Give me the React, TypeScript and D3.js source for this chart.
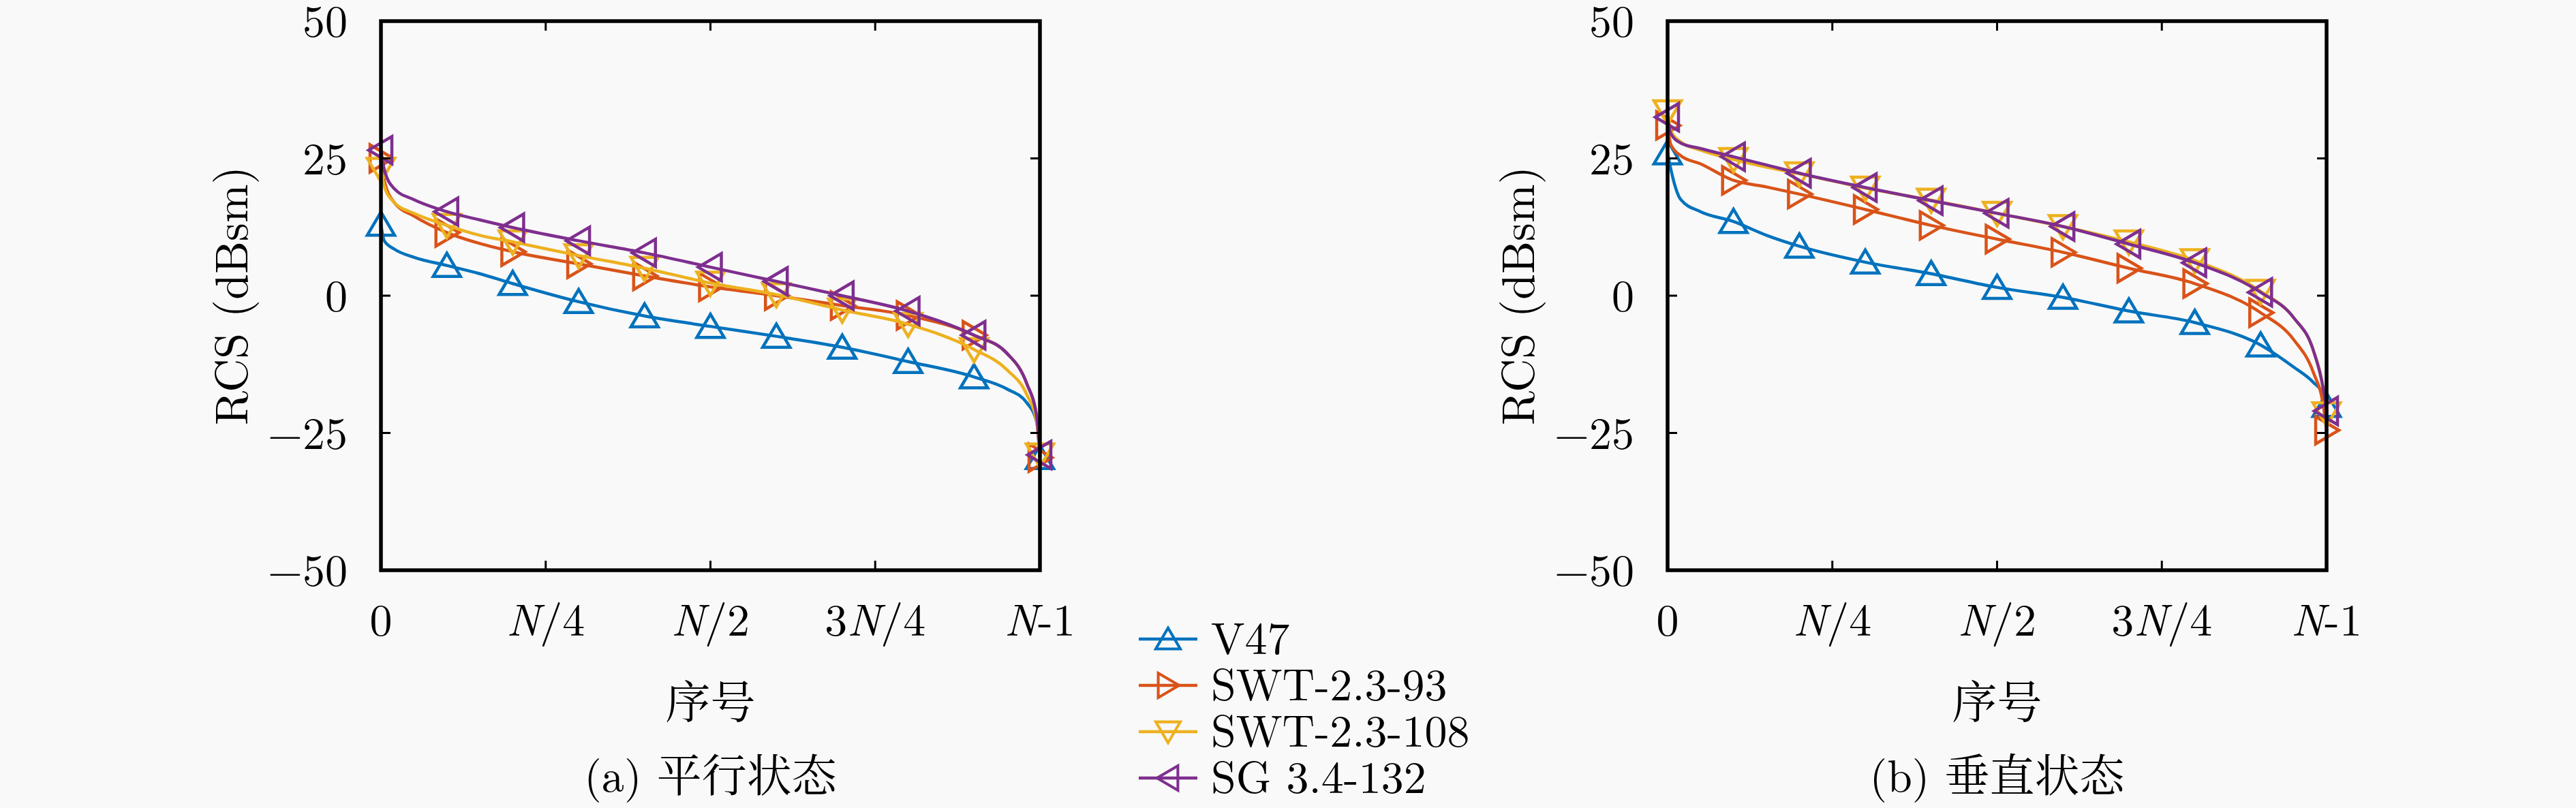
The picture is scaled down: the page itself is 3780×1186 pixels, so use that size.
import React from "react";
import * as d3 from "d3";

// sorted RCS curves, x as fraction of index range 0 .. N-1
const xFrac = [0, 0.005, 0.02, 0.05, 0.1, 0.15, 0.2, 0.3, 0.4, 0.5, 0.6, 0.7, 0.8, 0.9, 0.95, 0.98, 0.995, 1.0];
const markerFrac = [0, 0.1, 0.2, 0.3, 0.4, 0.5, 0.6, 0.7, 0.8, 0.9, 1.0];

// (a) parallel
const v47A = [13, 10, 8.5, 7, 5.5, 4, 2.2, -1.1, -3.7, -5.6, -7.4, -9.4, -12, -14.8, -17, -19.5, -23, -29.5];
const swt93A = [25, 21, 17, 14.5, 11.5, 9.5, 8, 5.8, 3.6, 1.6, 0, -1.8, -3.6, -7.2, -10.5, -16, -22, -29.5];
const swt108A = [23, 20, 17, 15, 12.8, 11, 9.8, 7.3, 5, 2.3, 0.2, -2.6, -5.2, -9.8, -13.5, -18, -23, -29];
const sgA = [26.5, 23, 19.5, 17.5, 15.3, 13.8, 12.4, 10, 7.8, 5.2, 2.6, 0, -2.8, -7.2, -10.5, -16, -22, -29];

// (b) perpendicular
const v47B = [26, 23, 17.5, 15.3, 13.5, 11, 9, 6.1, 4, 1.5, -0.3, -2.8, -4.9, -9, -13, -15.8, -18, -20];
const swt93B = [31, 27.5, 25.5, 24, 21, 19.8, 18.5, 15.7, 12.8, 10.3, 7.9, 5, 2.2, -3.1, -8, -14, -20, -24.5];
const swt108B = [33.5, 30, 28, 26.5, 24.8, 23.4, 22.2, 19.6, 17.4, 15, 12.6, 9.8, 6.4, 0.8, -4, -10, -17, -21.5];
const sgB = [32.5, 29.5, 27.8, 26.8, 25.3, 23.8, 22.3, 19.7, 17.3, 15, 12.6, 9.4, 6, 0.6, -4, -10, -17, -21];

const seriesNames = ["V47", "SWT-2.3-93", "SWT-2.3-108", "SG 3.4-132"];
const seriesColors = ["#0072BD", "#D95319", "#EDB120", "#7E2F8E"];
const seriesMarkers = ["up", "right", "down", "left"];

const yTicks = [50, 25, 0, -25, -50];
const xTicks = [0, 0.25, 0.5, 0.75, 1];
const xTickLabels = [["", "0"], ["N", "/4"], ["N", "/2"], ["3", "N", "/4"], ["N", "-1"]];

const serif = { fontFamily: '"Latin Modern Roman", "Liberation Serif", serif' };
const cjk = { fontFamily: '"Noto Serif CJK SC", "Noto Sans CJK SC", serif' };

const triangle = (kind: string) => {
  switch (kind) {
    case "up":
      return "M0,-18L20,16L-20,16Z";
    case "down":
      return "M0,18L20,-16L-20,-16Z";
    case "right":
      return "M18,0L-16,-20L-16,20Z";
    default:
      return "M-18,0L16,-20L16,20Z";
  }
};

const fmt = (v: number) => (v < 0 ? "\u2212" + Math.abs(v) : String(v));

type PanelProps = {
  left: number;
  data: number[][];
  caption: string;
};

const Panel = ({ left, data, caption }: PanelProps) => {
  const top = 31;
  const bottom = 837;
  const right = left + 967;
  const x = d3.scaleLinear().domain([0, 1]).range([left, right]);
  const y = d3.scaleLinear().domain([-50, 50]).range([bottom, top]);
  const line = d3
    .line<number>()
    .x((_, i) => x(xFrac[i]))
    .y((d) => y(d))
    .curve(d3.curveMonotoneX);
  const tickLen = 14;
  const cx = (left + right) / 2;

  return (
    <g>
      {data.map((vals, s) => (
        <g key={s}>
          <path d={line(vals) || ""} fill="none" stroke={seriesColors[s]} strokeWidth={4.5} strokeLinejoin="round" />
          {xFrac.map((f, i) =>
            markerFrac.includes(f) ? (
              <path
                key={i}
                d={triangle(seriesMarkers[s])}
                transform={`translate(${x(f)},${y(vals[i])})`}
                fill="none"
                stroke={seriesColors[s]}
                strokeWidth={4.5}
              />
            ) : null
          )}
        </g>
      ))}

      <rect x={left} y={top} width={right - left} height={bottom - top} fill="none" stroke="#000" strokeWidth={5.5} />
      {xTicks.slice(1, -1).map((t) => (
        <g key={t}>
          <line x1={x(t)} x2={x(t)} y1={bottom} y2={bottom - tickLen} stroke="#000" strokeWidth={3} />
          <line x1={x(t)} x2={x(t)} y1={top} y2={top + tickLen} stroke="#000" strokeWidth={3} />
        </g>
      ))}
      {yTicks.slice(1, -1).map((t) => (
        <g key={t}>
          <line x1={left} x2={left + tickLen} y1={y(t)} y2={y(t)} stroke="#000" strokeWidth={3} />
          <line x1={right} x2={right - tickLen} y1={y(t)} y2={y(t)} stroke="#000" strokeWidth={3} />
        </g>
      ))}

      {yTicks.map((t) => (
        <text key={t} x={left - 49} y={y(t) + 23} textAnchor="end" style={serif} fontSize={66}>
          {fmt(t)}
        </text>
      ))}
      {xTicks.map((t, i) => (
        <text key={t} x={x(t)} y={933} textAnchor="middle" style={serif} fontSize={66}>
          {xTickLabels[i].map((part, j) => (
            <tspan key={j} fontStyle={part === "N" ? "italic" : "normal"}>
              {part}
            </tspan>
          ))}
        </text>
      ))}

      <text
        transform={`translate(${left - 196},${(top + bottom) / 2}) rotate(-90)`}
        textAnchor="middle"
        style={serif}
        fontSize={68}
      >
        RCS (dBsm)
      </text>
      <text x={cx} y={1054} textAnchor="middle" style={cjk} fontSize={66}>
        序号
      </text>
      <text x={cx} y={1162} textAnchor="middle" fontSize={66}>
        <tspan style={serif}>{caption.slice(0, 4)}</tspan>
        <tspan style={cjk}>{caption.slice(4)}</tspan>
      </text>
    </g>
  );
};

const Legend = () => {
  const rowY = d3.scalePoint<number>().domain([0, 1, 2, 3]).range([938, 1142]);
  return (
    <g>
      {seriesNames.map((name, i) => (
        <g key={name} transform={`translate(0,${rowY(i)})`}>
          <line x1={1671} x2={1757} y1={0} y2={0} stroke={seriesColors[i]} strokeWidth={4.5} />
          <path
            d={triangle(seriesMarkers[i])}
            transform="translate(1714,0) scale(0.9)"
            fill="none"
            stroke={seriesColors[i]}
            strokeWidth={4.5}
          />
          <text x={1777} y={22} style={serif} fontSize={66}>
            {name}
          </text>
        </g>
      ))}
    </g>
  );
};

export default function App() {
  return (
    <svg
      width={3780}
      height={1186}
      viewBox="0 0 3780 1186"
      style={{ position: "absolute", left: 0, top: 0, background: "#f9f9f9" }}
    >
      <rect width={3780} height={1186} fill="#f9f9f9" />
      <Panel left={559} data={[v47A, swt93A, swt108A, sgA]} caption="(a) 平行状态" />
      <Panel left={2447} data={[v47B, swt93B, swt108B, sgB]} caption="(b) 垂直状态" />
      <Legend />
    </svg>
  );
}
